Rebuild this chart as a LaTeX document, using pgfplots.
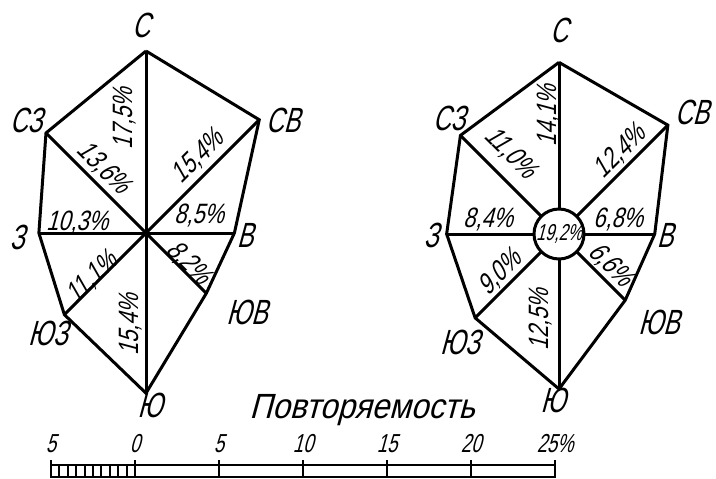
\documentclass[border=0pt]{standalone}
\usepackage{pgfplots}
\pgfplotsset{compat=1.18}
\usepackage{pgfplotstable}
\usepackage{fontspec}
\setmainfont{Liberation Sans}
\newfontfamily\gostD[FakeStretch=0.70, FakeSlant=0.27]{Liberation Sans}
\newfontfamily\gostP[FakeStretch=0.78, FakeSlant=0.27]{Liberation Sans}
\newfontfamily\gostT[FakeStretch=0.90, FakeSlant=0.27]{Liberation Sans}
\newcommand\fdir{\gostD\fontsize{17.5}{19}\selectfont}
\newcommand\fpct{\gostP\fontsize{14}{16}\selectfont}
\newcommand\fsmall{\gostD\fontsize{11.5}{12}\selectfont}
\newcommand\fscale{\gostD\fontsize{13}{14}\selectfont}
\newcommand\ftitle{\gostT\fontsize{17.5}{19}\selectfont}

% direction angle (deg), repeatability (%)
\pgfplotstableread{
a p
90 17.5
45 15.4
0 8.5
-45 8.2
-90 15.4
-135 11.1
180 10.3
135 13.6
90 17.5
}\leftrose
\pgfplotstableread{
a p
90 14.1
45 12.4
0 6.8
-45 6.6
-90 12.5
-135 9.0
180 8.4
135 11.0
90 14.1
}\rightrose

\def\k{10.4}
\def\lcx{146}\def\lcy{233}
\def\rcx{559}\def\rcy{234}
\def\rz{25}

\begin{document}
\begin{tikzpicture}[every node/.style={inner sep=0.5pt}]
\begin{axis}[
  at={(0,0)}, anchor=south west,
  x=0.5pt, y=0.5pt, xmin=0, xmax=716, ymin=0, ymax=478,
  y dir=reverse, hide axis, clip=false, scale only axis,
]
% ---- left rose
\addplot[black, line width=1.5pt, no markers, line join=miter]
  table[x expr={\lcx+\k*\thisrow{p}*cos(\thisrow{a})},
        y expr={\lcy-\k*\thisrow{p}*sin(\thisrow{a})}] {\leftrose};
\addplot[black, line width=1.5pt, no markers,
  quiver={u={\k*\thisrow{p}*cos(\thisrow{a})}, v={-\k*\thisrow{p}*sin(\thisrow{a})}}]
  table[x expr={\lcx}, y expr={\lcy}] {\leftrose};
% ---- right rose
\addplot[black, line width=1.5pt, no markers, line join=miter]
  table[x expr={\rcx+(\rz+\k*\thisrow{p})*cos(\thisrow{a})},
        y expr={\rcy-(\rz+\k*\thisrow{p})*sin(\thisrow{a})}] {\rightrose};
\addplot[black, line width=1.5pt, no markers,
  quiver={u={\k*\thisrow{p}*cos(\thisrow{a})}, v={-\k*\thisrow{p}*sin(\thisrow{a})}}]
  table[x expr={\rcx+\rz*cos(\thisrow{a})}, y expr={\rcy-\rz*sin(\thisrow{a})}] {\rightrose};
% calm
\addplot[only marks, mark=*, mark size=12.5pt,
  mark options={fill=white, draw=black, line width=1.5pt},
  nodes near coords={19,2\%},
  every node near coord/.append style={anchor=center, font=\fsmall, inner sep=0pt, black}]
  coordinates {(\rcx,\rcy)};

% ---- direction labels, left
\node[font=\fdir] at (axis cs:141,25) {С};
\node[font=\fdir] at (axis cs:283,120) {СВ};
\node[font=\fdir] at (axis cs:245,235) {В};
\node[font=\fdir] at (axis cs:247,312) {ЮВ};
\node[font=\fdir] at (axis cs:150,405) {Ю};
\node[font=\fdir] at (axis cs:48,333) {ЮЗ};
\node[font=\fdir] at (axis cs:17,237) {З};
\node[font=\fdir] at (axis cs:26,120) {СЗ};
% ---- direction labels, right
\node[font=\fdir] at (axis cs:559,30) {С};
\node[font=\fdir] at (axis cs:692,112) {СВ};
\node[font=\fdir] at (axis cs:665,235) {В};
\node[font=\fdir] at (axis cs:659,322) {ЮВ};
\node[font=\fdir] at (axis cs:553,400) {Ю};
\node[font=\fdir] at (axis cs:460,342) {ЮЗ};
\node[font=\fdir] at (axis cs:431,235) {З};
\node[font=\fdir] at (axis cs:449,118) {СЗ};

% ---- percentages, left
\node[font=\fpct, rotate=90] at (axis cs:125,119) {17,5\%};
\node[font=\fpct, rotate=-45] at (axis cs:103,168) {13,6\%};
\node[font=\fpct, rotate=45] at (axis cs:198,157) {15,4\%};
\node[font=\fpct] at (axis cs:77,223) {10,3\%};
\node[font=\fpct] at (axis cs:199,216) {8,5\%};
\node[font=\fpct, rotate=-45] at (axis cs:188,263) {8,2\%};
\node[font=\fpct, rotate=45] at (axis cs:92,278) {11,1\%};
\node[font=\fpct, rotate=90] at (axis cs:131,325) {15,4\%};
% ---- percentages, right
\node[font=\fpct, rotate=90] at (axis cs:549,116) {14,1\%};
\node[font=\fpct, rotate=-45] at (axis cs:510,153) {11,0\%};
\node[font=\fpct, rotate=45] at (axis cs:620,152) {12,4\%};
\node[font=\fpct] at (axis cs:488,220) {8,4\%};
\node[font=\fpct] at (axis cs:618,220) {6,8\%};
\node[font=\fpct, rotate=-45] at (axis cs:610,265) {6,6\%};
\node[font=\fpct, rotate=45] at (axis cs:500,273) {9,0\%};
\node[font=\fpct, rotate=90] at (axis cs:541,320) {12,5\%};

% ---- title
\node[font=\ftitle] at (axis cs:362,410) {Повторяемость};
\end{axis}

% ---- scale bar
\begin{axis}[
  at={(25.5pt,0.5pt)}, anchor=south west,
  scale only axis, width=252pt, height=6pt,
  xmin=-5, xmax=25, ymin=0, ymax=1,
  axis line style={line width=1.2pt},
  xtick={-5,0,5,10,15,20,25},
  xticklabels={5,0,5,10,15,20,25\%},
  xtick pos=right, xticklabel pos=right,
  tick align=outside, major tick length=2.5pt,
  tick style={black, line width=1.2pt},
  ytick=\empty,
  xticklabel style={font=\fscale, yshift=3pt},
  clip=false,
]
\addplot[ycomb, black, line width=1pt, no markers] coordinates
  {(-4.5,1) (-4,1) (-3.5,1) (-3,1) (-2.5,1) (-2,1) (-1.5,1) (-1,1) (-0.5,1)};
\addplot[ycomb, black, line width=1.2pt, no markers] coordinates
  {(0,1) (5,1) (10,1) (15,1) (20,1)};
\end{axis}
\pgfresetboundingbox
\useasboundingbox (0,0) rectangle (358pt,239pt);
\end{tikzpicture}
\end{document}
